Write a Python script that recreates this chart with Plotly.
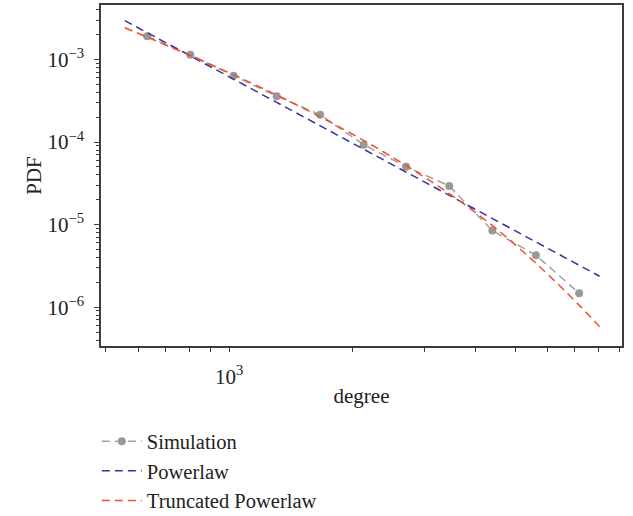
import plotly.graph_objects as go

# Degree distribution (log-binned) and the two fitted models
sim_degree = [631, 804, 1026, 1307, 1669, 2132, 2707, 3451, 4398, 5620, 7166]
sim_pdf = [1.91e-3, 1.14e-3, 6.34e-4, 3.6e-4, 2.14e-4, 9.3e-5, 5.04e-5,
           2.94e-5, 8.46e-6, 4.26e-6, 1.48e-6]

powerlaw_degree = [556, 8040]
powerlaw_pdf = [2.96e-3, 2.37e-6]

trunc_degree = [556, 631, 804, 1026, 1307, 1669, 2132, 2707, 3451, 4398,
                5620, 7166, 8040]
trunc_pdf = [2.42e-3, 1.866e-3, 1.117e-3, 6.52e-4, 3.71e-4, 2.02e-4,
             1.047e-4, 5.2e-5, 2.37e-5, 9.74e-6, 3.4e-6, 1.06e-6, 5.8e-7]

y_ticks = [1e-6, 1e-5, 1e-4, 1e-3]
y_ticktext = ["10<sup>−6</sup>", "10<sup>−5</sup>", "10<sup>−4</sup>", "10<sup>−3</sup>"]
x_ticks = [1000]
x_ticktext = ["10<sup>3</sup>"]

FONT = "Liberation Serif"
AXIS = "#3c3c3c"
DASH = "8px,5px"
FS = 21

fig = go.Figure()
fig.add_trace(go.Scatter(
    x=sim_degree, y=sim_pdf, name="Simulation", mode="lines+markers",
    line=dict(color="#a0a0a0", width=1.5, dash=DASH),
    marker=dict(color="#999999", size=8), legendgroup="a"))
fig.add_trace(go.Scatter(
    x=powerlaw_degree, y=powerlaw_pdf, name="Powerlaw", mode="lines",
    line=dict(color="#3b2f9e", width=1.5, dash=DASH), legendgroup="b"))
fig.add_trace(go.Scatter(
    x=trunc_degree, y=trunc_pdf, name="Truncated Powerlaw", mode="lines",
    line=dict(color="#f0502a", width=1.5, dash=DASH, shape="spline"),
    legendgroup="c"))

fig.update_layout(
    width=633, height=516,
    margin=dict(l=101, r=11, t=5, b=170, autoexpand=False),
    paper_bgcolor="white", plot_bgcolor="white",
    font=dict(family=FONT, size=FS, color="#222222"),
    showlegend=True,
    legend=dict(x=-0.008, y=-0.221, xanchor="left", yanchor="top",
                bgcolor="rgba(0,0,0,0)", tracegroupgap=0, itemwidth=40,
                font=dict(family=FONT, size=20.5, color="#222222")),
)
fig.update_xaxes(
    type="log", range=[2.687, 3.96], automargin=False,
    showline=True, linecolor=AXIS, linewidth=1.5, mirror=True,
    showgrid=False, zeroline=False,
    tickmode="array", tickvals=x_ticks, ticktext=x_ticktext,
    ticks="outside", ticklen=4, tickwidth=1.3, tickcolor=AXIS,
    ticklabelstandoff=7,
    minor=dict(ticks="outside", ticklen=4, tickwidth=1.3, tickcolor=AXIS,
               dtick="D1", showgrid=False),
    title=dict(text="degree", standoff=0, font=dict(family=FONT, size=FS)),
)
fig.update_yaxes(
    type="log", range=[-6.47, -2.34], automargin=False,
    showline=True, linecolor=AXIS, linewidth=1.5, mirror=True,
    showgrid=False, zeroline=False,
    tickmode="array", tickvals=y_ticks, ticktext=y_ticktext,
    ticks="outside", ticklen=5, tickwidth=1.3, tickcolor=AXIS,
    ticklabelstandoff=6,
    minor=dict(ticks="outside", ticklen=3, tickwidth=1, tickcolor=AXIS,
               dtick="D1", showgrid=False),
    title=dict(text="PDF", standoff=0, font=dict(family=FONT, size=FS)),
)

fig.write_html("out.html")
